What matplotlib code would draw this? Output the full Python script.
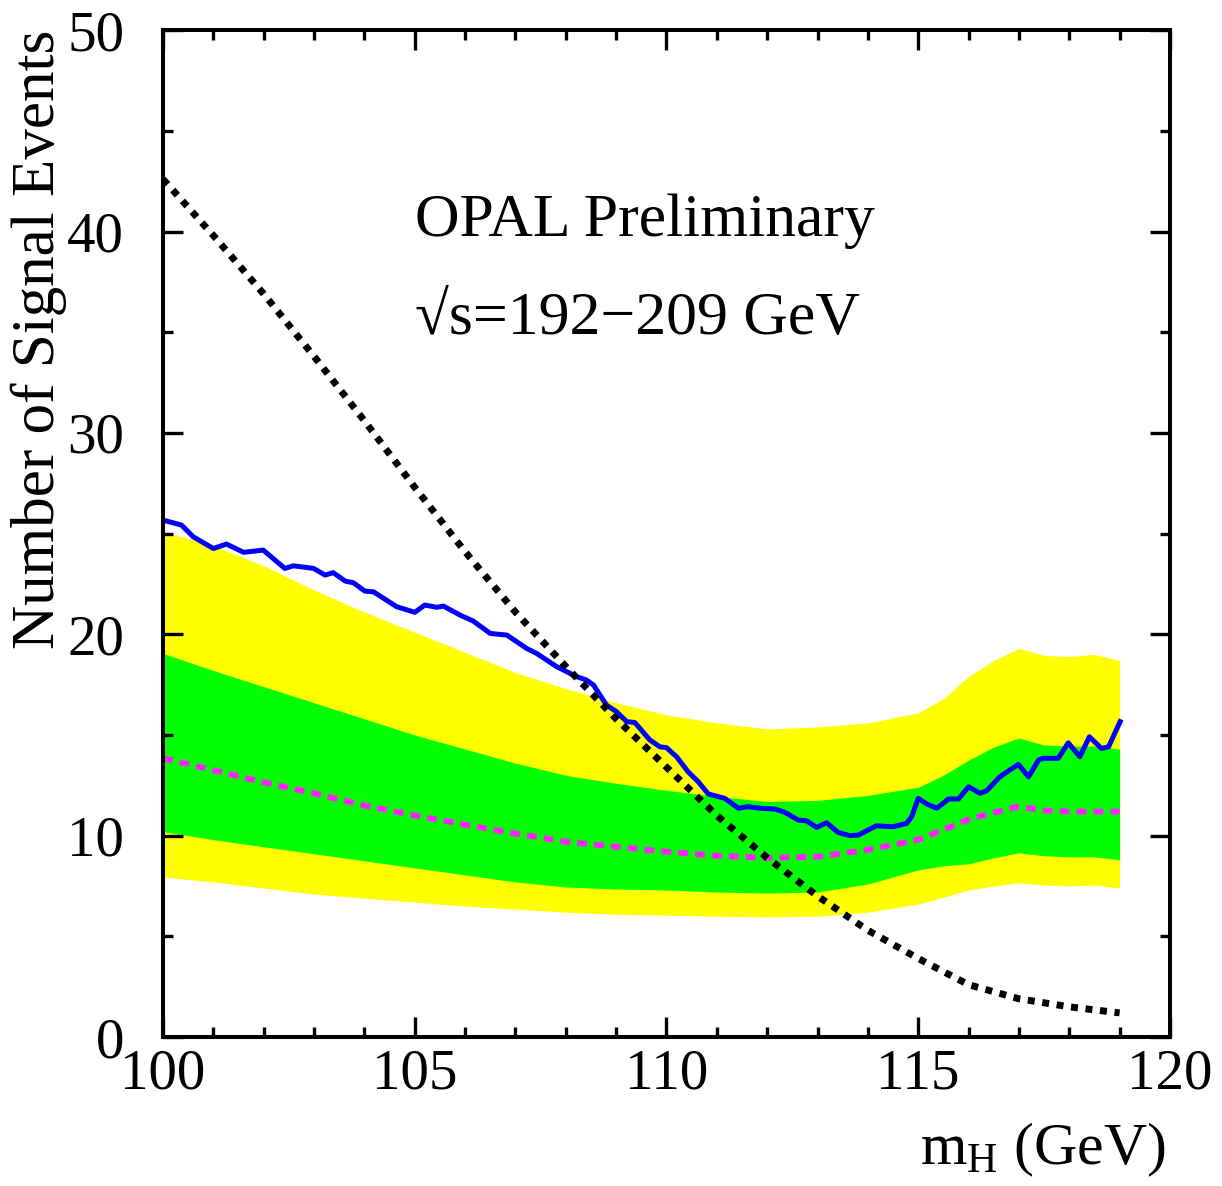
import matplotlib
matplotlib.use('Agg')
import matplotlib.pyplot as plt
from matplotlib.ticker import MultipleLocator

plt.rcParams['font.family'] = ['Liberation Serif', 'DejaVu Serif']
plt.rcParams['mathtext.fontset'] = 'custom'
plt.rcParams['mathtext.rm'] = 'Liberation Serif'
plt.rcParams['mathtext.it'] = 'Liberation Serif'

# expected-limit bands
band_x = [100, 101, 102, 103, 104, 105, 106, 107, 108, 109, 110, 111, 112, 113,
          114, 115, 115.5, 116, 116.5, 117, 117.5, 118, 118.5, 119]
yellow_hi = [25.1, 24.4, 23.4, 22.2, 21.1, 20.1, 19.1, 18.1, 17.3, 16.6, 16.0, 15.6,
             15.3, 15.4, 15.6, 16.1, 16.8, 17.9, 18.7, 19.3, 18.95, 18.9, 19.0, 18.7]
yellow_lo = [7.95, 7.7, 7.4, 7.1, 6.9, 6.7, 6.5, 6.35, 6.2, 6.1, 6.05, 6.0,
             5.96, 6.0, 6.2, 6.6, 6.95, 7.3, 7.5, 7.65, 7.55, 7.5, 7.55, 7.4]
green_hi = [19.05, 18.2, 17.4, 16.6, 15.8, 15.0, 14.3, 13.6, 13.0, 12.6, 12.25, 11.95,
            11.7, 11.75, 12.0, 12.4, 13.0, 13.75, 14.4, 14.85, 14.5, 14.45, 14.45, 14.3]
green_lo = [10.2, 9.8, 9.45, 9.1, 8.75, 8.4, 8.05, 7.7, 7.45, 7.35, 7.3, 7.2,
            7.15, 7.2, 7.6, 8.3, 8.5, 8.6, 8.9, 9.15, 9.0, 8.95, 8.95, 8.8]
median = [13.85, 13.25, 12.65, 12.1, 11.5, 11.0, 10.55, 10.1, 9.7, 9.45, 9.2, 9.0,
          8.9, 8.95, 9.3, 9.8, 10.3, 10.8, 11.15, 11.45, 11.25, 11.2, 11.2, 11.2]

# observed limit
obs_x = [100.0, 100.37, 100.6, 101.0, 101.26, 101.6, 101.99, 102.42, 102.59, 102.99,
         103.22, 103.38, 103.62, 103.78, 104.01, 104.18, 104.64, 105.0, 105.2, 105.44,
         105.57, 105.9, 106.16, 106.5, 106.83, 107.22, 107.42, 107.82, 108.22, 108.41,
         108.55, 108.81, 109.01, 109.21, 109.37, 109.67, 109.87, 110.0, 110.2, 110.43,
         110.63, 110.83, 111.16, 111.43, 111.62, 111.86, 112.16, 112.35, 112.62, 112.78,
         112.98, 113.18, 113.41, 113.64, 113.81, 114.17, 114.5, 114.77, 114.87, 115.0,
         115.17, 115.37, 115.6, 115.8, 116.0, 116.23, 116.36, 116.62, 116.82, 116.99,
         117.19, 117.39, 117.48, 117.78, 117.98, 118.21, 118.4, 118.64, 118.78, 119.01]
obs_y = [25.67, 25.42, 24.84, 24.26, 24.48, 24.07, 24.18, 23.27, 23.4, 23.27,
         22.94, 23.06, 22.64, 22.56, 22.14, 22.11, 21.37, 21.09, 21.45, 21.34,
         21.4, 20.95, 20.66, 20.04, 19.96, 19.3, 19.05, 18.39, 17.89, 17.73,
         17.48, 16.48, 16.15, 15.66, 15.62, 14.75, 14.41, 14.37, 13.92, 13.17,
         12.68, 12.07, 11.85, 11.36, 11.44, 11.36, 11.32, 11.16, 10.77, 10.74,
         10.41, 10.64, 10.16, 10.0, 10.03, 10.49, 10.44, 10.61, 10.94, 11.85,
         11.57, 11.36, 11.82, 11.82, 12.43, 12.1, 12.23, 12.92, 13.26, 13.54,
         12.92, 13.75, 13.84, 13.84, 14.61, 13.92, 14.91, 14.33, 14.41, 15.66]

# expected signal
sig_x = [100, 101, 102, 103, 104, 105, 106, 107, 108, 109, 110, 111, 112, 113, 114,
         115, 116, 117, 118, 119]
sig_y = [42.6, 39.8, 36.9, 33.8, 30.6, 27.3, 24.1, 21.1, 18.4, 15.8, 13.4, 11.0,
         8.9, 7.0, 5.3, 3.9, 2.6, 1.9, 1.5, 1.2]

fig = plt.figure(figsize=(12.22, 11.86), dpi=100)
ax = fig.add_axes([0.1334, 0.1256, 0.824, 0.849])

ax.fill_between(band_x, yellow_lo, yellow_hi, color='#ffff00', lw=0)
ax.fill_between(band_x, green_lo, green_hi, color='#00ff00', lw=0)
ax.plot(band_x, median, color='#ff22ff', lw=4.2, linestyle=(0, (1.7, 1.2)))
ax.plot(obs_x, obs_y, color='#0000ff', lw=3.6)
ax.plot(sig_x, sig_y, color='black', lw=5, linestyle=(0, (1, 1.1)))

ax.set_xlim(100, 120)
ax.set_ylim(0, 50)
ax.xaxis.set_major_locator(MultipleLocator(5))
ax.xaxis.set_minor_locator(MultipleLocator(1))
ax.yaxis.set_major_locator(MultipleLocator(10))
ax.yaxis.set_minor_locator(MultipleLocator(5))
ax.tick_params(which='both', direction='in', top=True, right=True, width=2.4,
               labelsize=41)
ax.tick_params(which='major', length=14.5)
ax.tick_params(which='minor', length=7.2)
ax.tick_params(axis='y', pad=28)
ax.tick_params(axis='x', pad=8)
for s in ax.spines.values():
    s.set_linewidth(2.9)

ax.set_ylabel('Number of Signal Events', fontsize=44, loc='top', labelpad=0)
ax.set_xlabel(r'$\mathrm{m_H}$ (GeV)', fontsize=43, loc='right')
ax.xaxis.set_label_coords(0.995, -0.083)

ax.text(0.25, 0.796, 'OPAL Preliminary', transform=ax.transAxes, fontsize=44.5)
ax.text(0.25, 0.698, '\u221as=192\u2212209 GeV', transform=ax.transAxes, fontsize=44.5)

fig.savefig('out.png', dpi=100)
